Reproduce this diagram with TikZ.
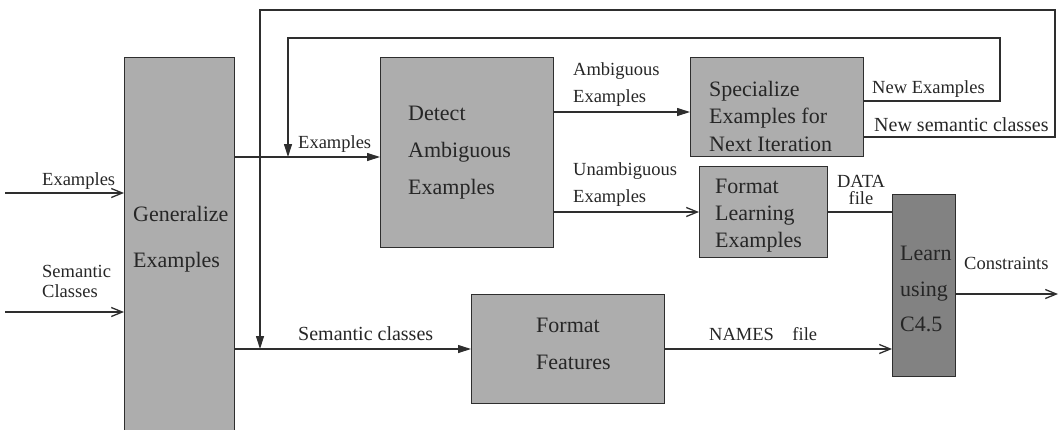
\documentclass[tikz,border=0pt]{standalone}
\usepackage{fontspec}
\setmainfont{Liberation Serif}
\usetikzlibrary{arrows.meta}
\definecolor{boxgray}{HTML}{ADADAD}
\definecolor{darkgray}{HTML}{828282}
\definecolor{edge}{HTML}{2E2E2E}
\begin{document}
\begin{tikzpicture}[x=1pt,y=-1pt,
  box/.style={draw=edge, fill=boxgray, line width=1.2pt, anchor=north west, inner sep=0pt},
  dbox/.style={box, fill=darkgray},
  btxt/.style={anchor=west, align=left, inner sep=0pt, text=black!85},
  ltxt/.style={anchor=west, align=left, inner sep=0pt, text=black!85},
  wire/.style={draw=edge, line width=1.1pt},
  ftip/.style={wire, -{Triangle[length=13pt,width=8pt]}},
  btip/.style={wire, -{Straight Barb[length=11pt,width=9pt,line width=1.3pt]}}
]
\useasboundingbox (0,0) rectangle (1060,429);

% boxes
\node[box, minimum width=110pt, minimum height=376pt] (gen) at (124,57) {};
\node[box, minimum width=173pt, minimum height=190pt] (det) at (380,57) {};
\node[box, minimum width=173pt, minimum height=99pt] (spec) at (690,57) {};
\node[box, minimum width=128pt, minimum height=91pt] (fle) at (699,166) {};
\node[dbox, minimum width=63pt, minimum height=182pt] (c45) at (892,194) {};
\node[box, minimum width=193pt, minimum height=109pt] (ff) at (471,294) {};

% box texts
\node[btxt, font=\fontsize{22}{46}\selectfont] (gent) at (133,239) {Generalize\\Examples};
\node[btxt, font=\fontsize{22}{37}\selectfont] (dett) at (408,153) {Detect\\Ambiguous\\Examples};
\node[btxt, font=\fontsize{22}{27.5}\selectfont] (spect) at (709,116) {Specialize\\Examples for\\Next Iteration};
\node[btxt, font=\fontsize{22}{27}\selectfont] (flet) at (715,216) {Format\\Learning\\Examples};
\node[btxt, font=\fontsize{22}{35.5}\selectfont] (c45t) at (900,289) {Learn\\using\\C4.5};
\node[btxt, font=\fontsize{22}{37}\selectfont] (fft) at (536,344) {Format\\Features};

% helper coordinates
\coordinate (yEx) at (0,157);
\coordinate (ySem) at (0,349);
\coordinate (yIn1) at (0,193);
\coordinate (yIn2) at (0,312);
\coordinate (yAmb) at (0,112);
\coordinate (yUn) at (0,212);
\coordinate (yNE) at (0,101);
\coordinate (yNS) at (0,137);
\coordinate (yCon) at (0,294);
\coordinate (in1) at (5,193);
\coordinate (in2) at (5,312);
\coordinate (out) at (1058,294);
\coordinate (oR) at (1055,10);
\coordinate (oL) at (260,10);
\coordinate (iR) at (1000,38);
\coordinate (iL) at (288,38);

% connectors
\draw[btip] (in1) -- (gen.west |- yIn1);
\draw[btip] (in2) -- (gen.west |- yIn2);
\draw[ftip] (gen.east |- yEx) -- (det.west |- yEx);
\draw[ftip] (gen.east |- ySem) -- (ff.west |- ySem);
\draw[ftip] (det.east |- yAmb) -- (spec.west |- yAmb);
\draw[btip] (det.east |- yUn) -- (fle.west |- yUn);
\draw[wire] (fle.east |- yUn) -- (c45.west |- yUn);
\draw[btip] (ff.east |- ySem) -- (c45.west |- ySem);
\draw[btip] (c45.east |- yCon) -- (out);
\draw[ftip] (spec.east |- yNS) -- (oR |- yNS) -- (oR) -- (oL) -- (oL |- ySem);
\draw[ftip] (spec.east |- yNE) -- (iR |- yNE) -- (iR) -- (iL) -- (iL |- yEx);

% labels
\node[ltxt, font=\fontsize{18.5}{20}\selectfont] (lex1) at (42,181) {Examples};
\node[ltxt, font=\fontsize{18.5}{20}\selectfont] (lsem1) at (42,281) {Semantic\\Classes};
\node[ltxt, font=\fontsize{18.5}{20}\selectfont] (lex2) at (298,144) {Examples};
\node[ltxt, font=\fontsize{20}{20}\selectfont] (lsem2) at (298,334) {Semantic classes};
\node[ltxt, font=\fontsize{18.5}{27}\selectfont] (lamb) at (573,85) {Ambiguous\\Examples};
\node[ltxt, font=\fontsize{18.5}{27}\selectfont] (lun) at (573,185) {Unambiguous\\Examples};
\node[anchor=center, align=center, inner sep=0pt, text=black!85, font=\fontsize{18.5}{17}\selectfont] (ldata) at (861,190) {DATA\\file};
\node[ltxt, font=\fontsize{18.5}{20}\selectfont] (lnex) at (872,89) {New Examples};
\node[ltxt, font=\fontsize{20}{20}\selectfont] (lnsc) at (874,125) {New semantic classes};
\node[ltxt, font=\fontsize{18.5}{20}\selectfont] (lnames) at (709,334) {NAMES\quad file};
\node[ltxt, font=\fontsize{18.5}{20}\selectfont] (lcon) at (964,263) {Constraints};
\end{tikzpicture}
\end{document}
